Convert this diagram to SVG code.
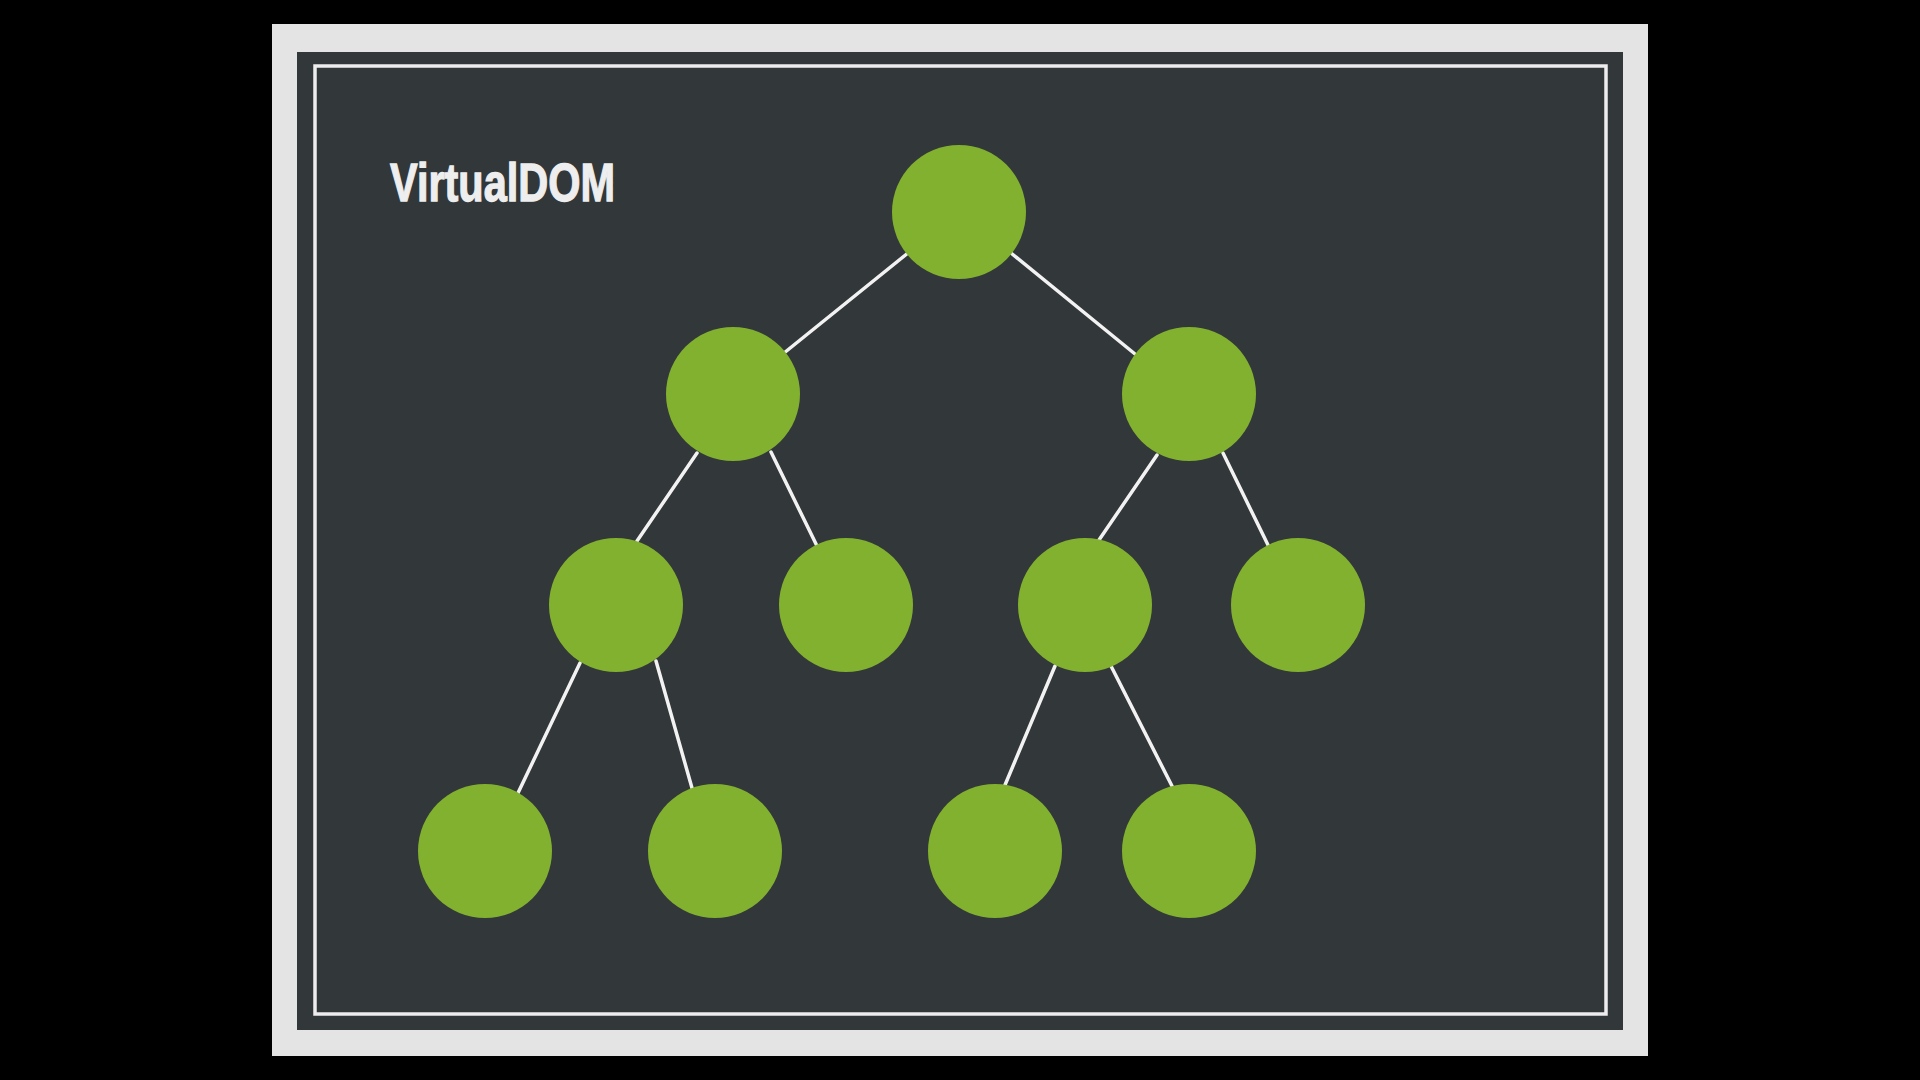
<svg xmlns="http://www.w3.org/2000/svg" width="1920" height="1080" viewBox="0 0 1920 1080">
  <defs>
    <style>
      .node { fill: #82B12F; }
      .edge { stroke: #F2F2F2; stroke-width: 3.5; stroke-linecap: round; fill: none; }
      .title { font-family: "Liberation Sans", Arial, sans-serif; font-weight: bold; font-size: 54px; fill: #EEEEEE; stroke: #EEEEEE; stroke-width: 1.3; }
    </style>
  </defs>
  <rect x="0" y="0" width="1920" height="1080" fill="#000000"/>
  <rect x="272" y="24" width="1376" height="1032" fill="#E4E4E4"/>
  <rect x="297" y="52" width="1326" height="978" fill="#32373A"/>
  <rect x="315" y="66" width="1291" height="948" fill="none" stroke="#EDEDED" stroke-width="3.5"/>

  <g id="title">
    <text class="title" x="390" y="201" textLength="225" lengthAdjust="spacingAndGlyphs">VirtualDOM</text>
  </g>

  <g id="connectors">
    <line class="edge" x1="908" y1="253" x2="784" y2="353"/>
    <line class="edge" x1="1011" y1="253" x2="1135" y2="354"/>
    <line class="edge" x1="697" y1="453" x2="637" y2="541"/>
    <line class="edge" x1="771" y1="452" x2="817" y2="546"/>
    <line class="edge" x1="1157" y1="455" x2="1099" y2="540"/>
    <line class="edge" x1="1223" y1="453" x2="1268" y2="545"/>
    <line class="edge" x1="580" y1="663" x2="518" y2="793"/>
    <line class="edge" x1="656" y1="661" x2="692" y2="788"/>
    <line class="edge" x1="1055" y1="666" x2="1005" y2="785"/>
    <line class="edge" x1="1111" y1="666" x2="1172" y2="786"/>
  </g>

  <g id="node-root"><circle class="node" cx="959" cy="212" r="67"/></g>
  <g id="node-l"><circle class="node" cx="733" cy="394" r="67"/></g>
  <g id="node-r"><circle class="node" cx="1189" cy="394" r="67"/></g>
  <g id="node-ll"><circle class="node" cx="616" cy="605" r="67"/></g>
  <g id="node-lr"><circle class="node" cx="846" cy="605" r="67"/></g>
  <g id="node-rl"><circle class="node" cx="1085" cy="605" r="67"/></g>
  <g id="node-rr"><circle class="node" cx="1298" cy="605" r="67"/></g>
  <g id="node-lll"><circle class="node" cx="485" cy="851" r="67"/></g>
  <g id="node-llr"><circle class="node" cx="715" cy="851" r="67"/></g>
  <g id="node-rll"><circle class="node" cx="995" cy="851" r="67"/></g>
  <g id="node-rlr"><circle class="node" cx="1189" cy="851" r="67"/></g>
</svg>
